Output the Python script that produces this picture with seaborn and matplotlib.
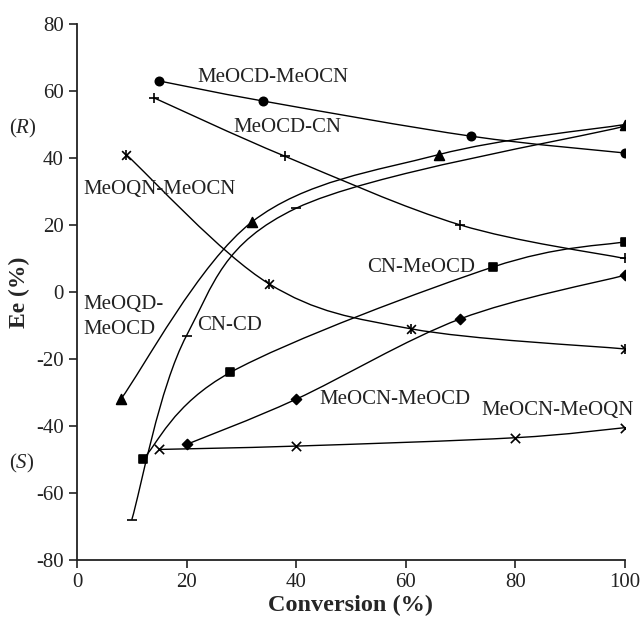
import numpy as np
import seaborn as sns
from matplotlib import pyplot as plt
from matplotlib.path import Path
from matplotlib.patches import PathPatch

# values: conversion (%) vs ee (%)
meocd_meocn_x = [15, 34, 72, 100]
meocd_meocn_y = [63, 57, 46.5, 41.5]

meocd_cn_x = [14, 38, 70, 100]
meocd_cn_y = [58, 40.5, 20, 10]

meoqn_meocn_x = [9, 35, 61, 100]
meoqn_meocn_y = [41, 2.5, -11, -17]

meoqd_meocd_x = [8, 32, 66, 100]
meoqd_meocd_y = [-32, 21, 41, 50]

cn_cd_x = [10, 20, 40, 100]
cn_cd_y = [-68, -13, 25, 49.5]

cn_meocd_x = [12, 28, 76, 100]
cn_meocd_y = [-50, -24, 7.5, 15]

meocn_meocd_x = [20, 40, 70, 100]
meocn_meocd_y = [-45.5, -32, -8, 5]

meocn_meoqn_x = [15, 40, 80, 100]
meocn_meoqn_y = [-47, -46, -43.5, -40.5]

x_ticks = [0, 20, 40, 60, 80, 100]
y_ticks = [-80, -60, -40, -20, 0, 20, 40, 60, 80]

# (x, y, markers as (marker, size)) per series
series = [
    (meocd_meocn_x, meocd_meocn_y, [("o", 36)]),
    (meocd_cn_x, meocd_cn_y, [("+", 60)]),
    (meoqn_meocn_x, meoqn_meocn_y, [("x", 40), ("|", 50)]),
    (meoqd_meocd_x, meoqd_meocd_y, [("^", 50)]),
    (cn_cd_x, cn_cd_y, [("_", 60)]),
    (cn_meocd_x, cn_meocd_y, [("s", 36)]),
    (meocn_meocd_x, meocn_meocd_y, [("D", 26)]),
    (meocn_meoqn_x, meocn_meoqn_y, [("x", 45)]),
]

# curve labels, placed in data coordinates
labels = [
    ("MeOCD-MeOCN", 22, 64),
    ("MeOCD-CN", 28.5, 49),
    ("MeOQN-MeOCN", 1.1, 30.7),
    ("MeOQD-\nMeOCD", 1.1, -7.5),
    ("CN-CD", 21.9, -10.1),
    ("CN-MeOCD", 52.9, 7.2),
    ("MeOCN-MeOCD", 44.3, -32),
    ("MeOCN-MeOQN", 73.9, -35.5),
]


def smooth_path(xs, ys):
    # Excel-style smoothed line: cubic bezier through each point
    pts = np.column_stack([xs, ys]).astype(float)
    n = len(pts)
    verts = [pts[0]]
    codes = [Path.MOVETO]
    for i in range(n - 1):
        p0 = pts[max(i - 1, 0)]
        p1 = pts[i]
        p2 = pts[i + 1]
        p3 = pts[min(i + 2, n - 1)]
        verts += [p1 + (p2 - p0) / 6, p2 - (p3 - p1) / 6, p2]
        codes += [Path.CURVE4] * 3
    return Path(verts, codes)


sns.set_style("ticks")
plt.rcParams["font.family"] = ["Liberation Serif", "DejaVu Serif"]
plt.rcParams["mathtext.fontset"] = "custom"
plt.rcParams["mathtext.rm"] = "Liberation Serif"
plt.rcParams["mathtext.it"] = "Liberation Serif:italic"
plt.rcParams["axes.unicode_minus"] = False

fig = plt.figure(figsize=(6.4, 6.22), dpi=100)
ax = fig.add_axes([0.1203, 0.0997, 0.856, 0.8617])

for xs, ys, marks in series:
    ax.add_patch(
        PathPatch(smooth_path(xs, ys), facecolor="none", edgecolor="black", lw=1.0, zorder=2)
    )
    for m, s in marks:
        sns.scatterplot(
            x=xs,
            y=ys,
            marker=m,
            s=s,
            color="black",
            edgecolor="black",
            linewidth=1.2,
            ax=ax,
            zorder=3,
            legend=False,
        )

for text, x, y in labels:
    ax.text(x, y, text, fontsize=15, ha="left", va="center", linespacing=1.45, color="#222222")

ax.set_xlim(0, 100)
ax.set_ylim(-80, 80)
ax.set_xticks(x_ticks)
ax.set_yticks(y_ticks)
ax.tick_params(axis="both", labelsize=15, length=6, width=1.2, direction="out", colors="#222222")
for side in ["top", "right"]:
    ax.spines[side].set_visible(False)
for side in ["left", "bottom"]:
    ax.spines[side].set_linewidth(1.3)
    ax.spines[side].set_color("#222222")

ax.set_xlabel("Conversion (%)", fontsize=17.5, fontweight="bold", labelpad=2)
ax.set_ylabel("Ee (%)", fontsize=17, fontweight="bold")
ax.yaxis.set_label_coords(-0.085, 0.5)

# enantiomer markers left of the axis
ax.text(-0.125, 48.7, "($R$)", fontsize=15, ha="left", va="center",
        transform=ax.get_yaxis_transform())
ax.text(-0.125, -51.3, "($S$)", fontsize=15, ha="left", va="center",
        transform=ax.get_yaxis_transform())

fig.savefig("out.png", dpi=100)
